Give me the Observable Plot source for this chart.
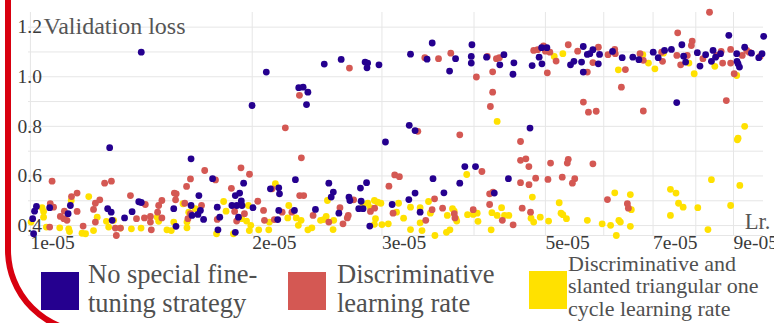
<!DOCTYPE html>
<html><head><meta charset="utf-8">
<script src="https://cdn.jsdelivr.net/npm/d3@7"></script>
<script src="https://cdn.jsdelivr.net/npm/@observablehq/plot@0.6"></script>
<style>
html,body{margin:0;padding:0;background:#fff;width:774px;height:323px;overflow:hidden;position:relative;font-family:'Liberation Serif',serif;}
#chart{position:absolute;left:0;top:0;}
.frame{position:absolute;left:5px;top:-60px;width:2000px;height:395px;box-sizing:border-box;border:6px solid #d8000f;border-bottom-left-radius:85px;pointer-events:none;}
.sw{position:absolute;width:38px;height:38px;}
.lt{position:absolute;color:#505050;white-space:nowrap;}
</style></head>
<body>
<div id="chart"></div>
<div id="legend"></div>
<div class="frame"></div>
<script>
// Learning rate in units of 1e-05, validation loss
const noSpecial = [
[1.019,0.477],[1.013,0.458],[1.007,0.428],[1.010,0.367],[1.062,0.472],[1.133,0.481],[1.125,0.448],[1.273,0.468],[1.287,0.454],[1.291,0.421],[1.342,0.431],[1.374,0.456],[1.403,0.496],[1.414,0.493],[1.565,0.468],[1.576,0.397],[1.281,0.714],[1.414,1.099],[1.652,0.669],[1.767,0.589],[1.947,0.571],[1.693,0.521],[1.652,0.481],[1.657,0.441],[1.688,0.445],[1.701,0.461],[1.718,0.425],[1.793,0.474],[1.807,0.434],[1.797,0.383],[1.877,0.481],[1.897,0.521],[1.923,0.531],[1.933,0.499],[1.906,0.481],[1.937,0.481],[1.916,0.434],[1.897,0.373],[2.005,0.472],[1.999,0.884],[2.117,0.548],[2.173,0.552],[2.178,0.528],[2.173,0.461],[2.166,0.424],[2.289,0.585],[2.282,0.461],[2.437,0.465],[2.541,0.571],[2.577,0.535],[2.560,0.515],[2.859,0.573],[2.805,0.551],[2.706,0.515],[2.714,0.501],[2.811,0.498],[2.622,0.450],[2.790,0.468],[2.828,0.468],[2.888,0.398],[3.097,0.485],[3.263,0.505],[3.327,0.531],[3.380,0.454],[3.519,0.589],[3.641,0.532],[3.826,0.571],[3.887,0.638],[4.019,0.638],[4.454,0.589],[4.262,0.531],[3.033,0.737],[3.267,0.804],[3.327,0.783],[4.765,0.793],
[2.090,1.019],[2.313,0.956],[2.345,0.958],[2.380,0.938],[2.370,0.888],[2.505,1.051],[2.641,1.070],[2.846,1.059],[2.869,1.055],[2.863,1.036],[2.972,1.048],[3.280,1.091],[3.510,1.136],[3.454,1.071],[3.706,1.023],[3.776,1.073],[3.974,1.129],[3.966,1.082],[3.966,1.055],[4.160,1.079],[4.336,1.048],[4.392,1.089],[4.531,1.056],[4.518,1.010],[4.797,1.045],[4.903,1.079],[4.946,1.052],[4.941,1.117],[5.023,1.117],[5.408,1.048],[5.466,1.062],[5.598,1.059],[5.628,1.122],[5.628,1.019],[5.700,1.090],[5.745,1.093],[5.800,1.109],[5.899,1.052],[5.922,1.090],[6.167,1.102],[6.356,1.077],[6.571,1.079],[6.696,1.069],[7.003,1.099],[7.113,1.077],[7.255,1.106],[7.413,1.110],[7.537,0.896],[7.659,1.129],[7.701,1.083],[7.750,1.059],[8.039,1.097],[8.105,1.043],[8.250,1.089],[8.443,1.106],[8.401,1.062],[8.51,1.079],[8.643,1.093],[8.87,1.167],[9.09,1.093],[9.10,1.062],[9.13,1.052],[9.17,1.039],[9.32,1.119],[9.52,1.095],[9.74,1.077],[9.84,1.093],[9.89,1.163]
];
const discriminative = [
[1.070,0.579],[1.064,0.488],[1.075,0.474],[1.062,0.394],[1.098,0.437],[1.110,0.428],[1.112,0.458],[1.121,0.421],[1.137,0.517],[1.157,0.531],[1.157,0.457],[1.179,0.398],[1.225,0.490],[1.242,0.504],[1.218,0.465],[1.225,0.414],[1.261,0.571],[1.288,0.579],[1.304,0.390],[1.325,0.390],[1.308,0.360],[1.367,0.521],[1.393,0.428],[1.432,0.485],[1.428,0.431],[1.455,0.437],[1.455,0.414],[1.459,0.383],[1.488,0.454],[1.508,0.501],[1.493,0.481],[1.508,0.431],[1.568,0.531],
[1.724,0.622],[1.931,0.633],[1.983,0.607],[1.649,0.588],[1.629,0.558],[1.783,0.584],[1.874,0.550],[1.577,0.528],[1.574,0.504],[1.620,0.490],[1.707,0.481],[1.952,0.448],[2.035,0.498],[1.893,0.457],[1.793,0.425],[1.905,0.418],[2.072,0.461],[2.078,0.421],[2.143,0.424],[2.128,0.548],[2.332,0.673],[2.218,0.794],[2.320,0.521],[2.349,0.521],[2.196,0.454],[2.264,0.454],[2.419,0.441],[1.636,0.428],[1.649,0.448],
[3.122,0.604],[3.168,0.597],[3.066,0.559],[3.826,0.766],[2.746,0.504],[2.700,0.441],[2.692,0.431],[2.631,0.472],[2.541,0.414],[2.656,0.407],[2.894,0.457],[2.932,0.470],[3.106,0.450],[3.536,0.508],[3.509,0.464],[3.626,0.470],[3.440,0.421],[3.761,0.448],[3.769,0.431],[3.990,0.464],[3.356,0.780],[4.10,0.618],
[4.626,0.739],[4.626,0.663],[4.704,0.669],[4.748,0.638],[5.081,0.652],[5.37,0.667],[5.354,0.652],[5.80,0.649],[4.626,0.573],[4.75,0.565],[4.85,0.591],[5.04,0.586],[5.27,0.595],[5.48,0.589],[5.44,0.571],[4.20,0.528],[4.245,0.535],[4.20,0.485],[4.65,0.470],[4.773,0.454],[4.37,0.421],[4.52,0.403],[6.07,0.505],[6.46,0.488],[6.48,0.470],
[2.318,0.925],[2.71,1.035],[3.43,1.077],[3.58,1.073],[3.72,1.095],[4.17,1.082],[4.03,0.999],[4.29,1.073],[4.33,1.077],[4.24,1.020],[4.24,0.938],[4.21,0.880],[4.82,1.106],[4.88,1.109],[4.97,1.124],[5.03,1.016],[5.00,1.103],[5.07,1.099],[5.17,1.063],[5.37,1.129],[5.53,1.103],[5.70,1.019],[5.80,1.057],[5.90,1.119],[6.08,1.089],[6.21,1.110],[6.22,1.093],[6.34,0.958],[6.42,1.029],[6.72,1.093],[6.79,1.066],[6.79,0.862],[7.19,1.099],[7.21,1.062],[7.56,1.177],[7.54,1.086],[7.63,1.048],[7.91,1.144],[7.89,1.126],[7.79,1.086],[8.18,1.073],[8.35,1.260],[8.54,1.086],[8.66,1.102],[8.70,1.055],[8.92,1.110],[8.92,1.055],[9.02,1.012],[8.80,0.904],[9.25,1.086],[9.38,1.106],[9.45,1.099],[9.78,1.082],[5.63,0.898],[5.72,0.857],[5.86,0.861]
];
const slantedTriangular = [
[1.002,0.414],[1.037,0.472],[1.042,0.457],[1.042,0.434],[1.051,0.394],[1.096,0.391],[1.127,0.387],[1.130,0.376],[1.136,0.501],[1.175,0.369],[1.188,0.367],[1.200,0.517],[1.218,0.380],[1.232,0.434],[1.268,0.417],[1.277,0.394],[1.297,0.421],[1.325,0.390],[1.371,0.387],[1.413,0.390],[1.486,0.434],[1.493,0.417],[1.532,0.383],[1.553,0.380],[1.565,0.414],[1.611,0.488],[1.631,0.391],[1.640,0.454],[1.674,0.468],[1.631,0.414],[1.789,0.367],[1.829,0.497],[1.843,0.458],[1.886,0.367],[1.935,0.428],[1.965,0.418],[1.991,0.401],[1.982,0.380],[2.041,0.383],[1.976,0.481],[2.11,0.414],[2.106,0.383],[2.15,0.569],[2.235,0.431],[2.242,0.481],[2.295,0.431],[2.31,0.401],[2.33,0.421],[2.38,0.383],[2.41,0.391],[2.476,0.421],
[2.53,0.501],[2.52,0.437],[2.50,0.424],[2.58,0.421],[2.575,0.384],[2.83,0.481],[2.87,0.490],[2.93,0.501],[2.96,0.494],[2.99,0.490],[2.894,0.472],[2.94,0.428],[2.93,0.405],[3.00,0.404],[3.06,0.407],[3.14,0.454],[3.16,0.490],[3.21,0.430],[3.28,0.474],[3.28,0.384],[3.38,0.472],[3.38,0.411],[3.40,0.380],[3.47,0.497],[3.49,0.450],[3.54,0.360],[3.68,0.441],[3.74,0.468],[3.76,0.458],[3.78,0.428],[3.79,0.418],[3.67,0.373],[3.71,0.383],[3.92,0.444],[3.91,0.606],[4.30,0.820],
[3.99,0.445],[4.04,0.450],[4.05,0.417],[4.23,0.452],[4.30,0.441],[4.36,0.472],[4.40,0.441],[4.46,0.441],[4.22,0.383],[4.80,0.515],[4.78,0.430],[4.82,0.414],[4.92,0.434],[5.05,0.418],[5.22,0.492],[5.25,0.450],[5.28,0.444],[5.34,0.428],[5.70,0.421],[5.97,0.407],[6.13,0.401],[6.29,0.421],[6.32,0.414],[6.21,0.532],[6.24,0.360],
[6.52,0.525],[6.54,0.464],[6.52,0.397],[7.39,0.546],[7.52,0.531],[7.58,0.490],[7.69,0.474],[7.39,0.441],[8.05,0.472],[8.31,0.384],[8.40,0.585],[8.92,0.481],[9.18,0.562],[9.11,0.746],[9.13,0.752],[9.32,0.800],
[5.14,1.082],[5.28,1.093],[6.28,1.028],[6.78,1.089],[6.90,1.055],[7.04,1.032],[7.23,1.095],[7.83,1.055],[7.96,1.012],[8.49,1.042],[9.09,1.005]
];
const seriesColors = ["#25008f", "#d45853", "#ffe100"];
const legendLines = [
  ["No special fine-", "tuning strategy"],
  ["Discriminative", "learning rate"],
  ["Discriminative and", "slanted triangular one", "cycle learning rate"]
];
const xTickValues = [1, 2, 3, 5, 7, 9];
const xGridValues = [1, 2, 3, 4, 5, 6, 7, 8, 9];
const yTickValues = [0.4, 0.6, 0.8, 1.0, 1.2];
const yGridValues = [0.4, 0.5, 0.6, 0.7, 0.8, 0.9, 1.0, 1.1, 1.2];
const xLabel = "Lr.";
const yLabel = "Validation loss";

const dotOpts = (c) => ({x: d => d[0], y: d => d[1], r: 3.4, fill: c});
const chart = Plot.plot({
  width: 774, height: 252,
  marginLeft: 28, marginRight: 11, marginTop: 12, marginBottom: 17,
  style: {fontFamily: "'Liberation Serif', serif", fontSize: "19.5px", color: "#3a3a3a", background: "transparent", overflow: "visible"},
  x: {type: "log", domain: [0.994, 9.885]},
  y: {domain: [0.36, 1.259]},
  marks: [
    Plot.gridX(xGridValues, {stroke: "#e6e6e6", strokeOpacity: 1, strokeWidth: 1}),
    Plot.gridY(yGridValues, {stroke: "#e6e6e6", strokeOpacity: 1, strokeWidth: 1}),
    Plot.ruleY([0.36], {stroke: "#e6e6e6", strokeWidth: 1}),
    Plot.axisX(xTickValues, {anchor: "bottom", tickSize: 0, tickPadding: 0, textAnchor: "start", tickFormat: d => `${d}e-05`, label: null}),
    Plot.axisY(yTickValues, {anchor: "left", tickSize: 0, tickPadding: 11, textAnchor: "start", tickFormat: d3.format(".1f"), label: null}),
    Plot.dot(slantedTriangular, dotOpts(seriesColors[2])),
    Plot.dot(discriminative, dotOpts(seriesColors[1])),
    Plot.dot(noSpecial, dotOpts(seriesColors[0])),
    Plot.text([yLabel], {frameAnchor: "top-left", textAnchor: "start", lineAnchor: "top", dx: 15, dy: 4, fontSize: 24, fill: "#555"}),
    Plot.text([xLabel], {frameAnchor: "bottom-right", textAnchor: "end", lineAnchor: "bottom", dx: 7, dy: -7, fontSize: 22.6, fill: "#555"})
  ]
});
document.getElementById("chart").appendChild(chart);

// Legend (HTML, below the plot)
const legend = document.getElementById("legend");
const legendLayout = [
  {sx: 41, sy: 272, tx: 88, ty: 260, fs: 26.5, lh: 28.5},
  {sx: 288, sy: 272, tx: 337, ty: 260, fs: 26.5, lh: 28.5},
  {sx: 529, sy: 271, tx: 568, ty: 252.5, fs: 22, lh: 22.8}
];
legendLines.forEach((lines, i) => {
  const L = legendLayout[i];
  const sw = document.createElement("div");
  sw.className = "sw";
  sw.style.left = L.sx + "px"; sw.style.top = L.sy + "px";
  sw.style.background = seriesColors[i];
  legend.appendChild(sw);
  const t = document.createElement("div");
  t.className = "lt";
  t.style.left = L.tx + "px"; t.style.top = L.ty + "px";
  t.style.fontSize = L.fs + "px"; t.style.lineHeight = L.lh + "px";
  t.innerHTML = lines.join("<br>");
  legend.appendChild(t);
});
</script>
</body></html>
